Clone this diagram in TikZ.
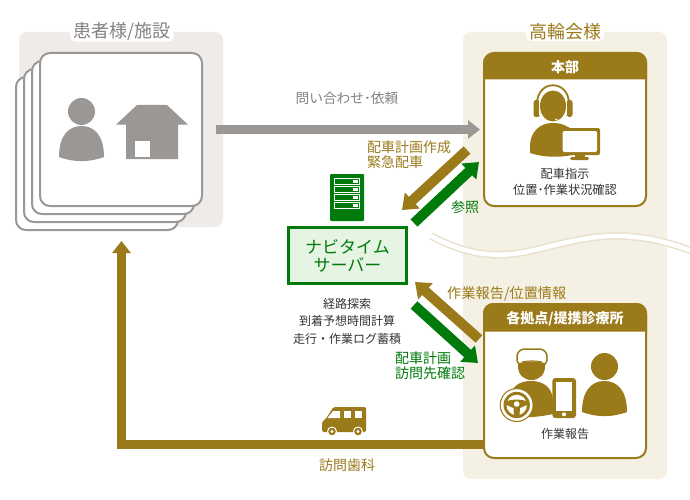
\documentclass[tikz,border=0pt]{standalone}
\usepackage{fontspec}
\setmainfont{Noto Sans CJK JP}
\usetikzlibrary{arrows.meta}
\definecolor{brownc}{HTML}{9B7A1A}
\definecolor{greenc}{HTML}{007A0A}
\definecolor{grayc}{HTML}{9B9794}
\definecolor{graytx}{HTML}{85817E}
\definecolor{leftbg}{HTML}{EEEBE8}
\definecolor{rightbg}{HTML}{F4F1E4}
\definecolor{wavec}{HTML}{E8E1CB}
\definecolor{srvbg}{HTML}{E6F4E4}
\definecolor{darktx}{HTML}{333333}
\newcommand{\fs}[1]{\fontsize{#1}{#1}\selectfont}
\tikzset{
  x=1pt,y=-1pt,
  area/.style={rounded corners=8pt},
  title/.style={fill=white,rounded corners=5pt,inner xsep=3pt,inner ysep=0.5pt,font=\fs{18},anchor=center},
  stack/.style={draw=grayc,line width=2pt,fill=white,rounded corners=10pt},
  card/.style={draw=brownc,line width=2pt,fill=white,rounded corners=10pt},
  head/.style={text=white,font=\fs{14}\bfseries,anchor=center,inner sep=0pt},
  small/.style={text=darktx,font=\fs{12},align=center,anchor=center,inner sep=0pt},
  lab/.style={font=\fs{14},align=left,anchor=west,inner sep=0pt},
  flow/.style={line width=9.5pt,-{Triangle[width=18pt,length=12pt]}},
  diag/.style={line width=10pt,-{Triangle[width=21pt,length=14pt]}},
  person/.pic={
    \fill (22.5,-14.5) circle (13.5);
    \fill (0,31) .. controls (0,9) and (10,0) .. (22.5,0) .. controls (35,0) and (45,9) .. (45,31)
       .. controls (30,36.5) and (15,36.5) .. (0,31) -- cycle;
  }
}
\begin{document}
\begin{tikzpicture}
\useasboundingbox (0,0) rectangle (690,500);
\clip (0,0) rectangle (690,500);
% backgrounds
\fill[leftbg,area] (19,32) rectangle (223,227);
\fill[rightbg,area] (463,32) rectangle (667,479);
% wave
\draw[wavec,line width=7.5pt] (431,236) .. controls (465,254) and (495,259) .. (530,251) .. controls (565,243) and (590,235) .. (622,236) .. controls (645,237) and (665,241) .. (692,251);
\draw[white,line width=4.5pt] (431,236) .. controls (465,254) and (495,259) .. (530,251) .. controls (565,243) and (590,235) .. (622,236) .. controls (645,237) and (665,241) .. (692,251);
% titles
\node[title,text=graytx] (tleft) at (122,32) {患者様/施設};
\node[title,text=brownc] (tright) at (565,32) {高輪会様};
% stacked cards
\draw[stack] (16,77) rectangle (178,230);
\draw[stack] (24,69) rectangle (186,222);
\draw[stack] (32,61) rectangle (194,214);
\draw[stack] (40,53) rectangle (202,206);
\path[fill=grayc] (59,126) pic {person};
\fill[grayc] (116,124.7) -- (137,105) -- (167,105) -- (188,124.7) -- (178,124.7) -- (178,159) -- (126,159) -- (126,124.7) -- cycle;
\fill[white] (135,141) rectangle (150,157);
% main gray arrow
\coordinate (gs) at (216,129.5);
\coordinate (ge) at (480,129.5);
\draw[grayc,flow] (gs) -- (ge);
\node[font=\fs{13.7},text=graytx,inner sep=0pt] (qlab) at (347,98) {問い合わせ･依頼};
% honbu box
\draw[card] (484,53) rectangle (646,206);
\fill[brownc] (483,79.5) -- (483,63) arc[start angle=180,end angle=270,radius=10] -- (637,52) arc[start angle=270,end angle=360,radius=10] -- (647,79.5) -- cycle;
\node[head] (hq) at (565,67) {本部};
% operator
\fill[brownc] (530,153) -- (530,146) .. controls (530,132) and (540,123) .. (552,123) .. controls (562,123) and (568,126) .. (572,130) -- (572,155) .. controls (558,158) and (542,157) .. (530,153) -- cycle;
\fill[brownc] (553,106) ellipse (13 and 15.5);
\draw[brownc,line width=1.8pt] (537,104) .. controls (537,79) and (569,79) .. (569,104);
\fill[brownc,rounded corners=2.5pt] (533.5,100) rectangle (540,117);
\fill[brownc,rounded corners=2.5pt] (566,100) rectangle (572.5,117);
\draw[white,line width=0.8pt] (539.7,100) -- (539.7,115);
\draw[white,line width=0.8pt] (566.3,100) -- (566.3,115);
\draw[white,line width=0.8pt] (555,119) .. controls (558,121) and (566,122) .. (568,116);
\fill[brownc,rounded corners=2pt] (575,152) rectangle (585,158);
\fill[brownc,rounded corners=1.5pt] (570,157) rectangle (589,160);
\fill[brownc,rounded corners=2pt] (561,128) rectangle (600,155);
\fill[white,rounded corners=1.5pt] (562.5,131) rectangle (597,152);
\node[small,font=\fs{12.2}] (hqt) at (565,182) {配車指示\\[4pt]位置･作業状況確認};
% server
\node[draw=greenc,line width=2.5pt,fill=srvbg,minimum width=118pt,minimum height=56pt,inner sep=0pt,align=center,text=greenc,font=\fs{17}] (srv) at (347.5,255.5) {ナビタイム\\[1pt]サーバー};
\fill[greenc,rounded corners=1pt] (330,174) rectangle (364,221);
\foreach \y in {178.5,186.5,194.5,202.5}{
  \draw[white,line width=0.8pt] (334,\y) rectangle (359.5,\y+5.5);
  \fill[white] (353,\y+1.5) rectangle (358,\y+4);
}
\node[small,font=\fs{12}] (srvt) at (347,321) {経路探索\\[5.5pt]到着予想時間計算\\[5.5pt]走行・作業ログ蓄積};
% diagonal arrows
\coordinate (a1s) at (467,150);
\coordinate (a1e) at (402,210);
\coordinate (a2s) at (414,223);
\coordinate (a2e) at (479,162);
\coordinate (a3s) at (479,339);
\coordinate (a3e) at (415,282);
\coordinate (a4s) at (414,305);
\coordinate (a4e) at (478,363);
\draw[brownc,diag] (a1s) -- (a1e);
\draw[greenc,diag] (a2s) -- (a2e);
\draw[brownc,diag] (a3s) -- (a3e);
\draw[greenc,diag] (a4s) -- (a4e);
\node[lab,text=brownc] (l1) at (367,154.5) {配車計画作成\\[1pt]緊急配車};
\node[lab,text=greenc] (l2) at (451,207.5) {参照};
\node[lab,text=brownc,font=\fs{14.2}] (l3) at (447,293.5) {作業報告/位置情報};
\node[lab,text=greenc] (l4) at (395,366) {配車計画\\[1pt]訪問先確認};
% branch box
\draw[card] (484,304) rectangle (646,458);
\fill[brownc] (483,331.5) -- (483,313) arc[start angle=180,end angle=270,radius=10] -- (637,303) arc[start angle=270,end angle=360,radius=10] -- (647,331.5) -- cycle;
\node[head] (br) at (565,319) {各拠点/提携診療所};
\node[small] (brt) at (565,434) {作業報告};
% driver
\fill[brownc] (510,417) -- (510,396) .. controls (512,386) and (520,381) .. (531,381) .. controls (544,381) and (553,388) .. (553,402) -- (553,414) .. controls (540,417) and (525,418) .. (510,417) -- cycle;
\fill[brownc] (518,358) -- (545,358) -- (545,366) .. controls (545,375) and (539,380) .. (531.5,380) .. controls (524,380) and (518,375) .. (518,366) -- cycle;
\draw[brownc,line width=1.5pt,fill=white] (519,364) .. controls (515,360) and (516,349) .. (525,349) -- (539,349) .. controls (548,349) and (549,360) .. (545,364) .. controls (538,361.5) and (526,361.5) .. (519,364) -- cycle;
\draw[brownc,line width=1pt] (522,362) .. controls (528,360.5) and (536,360.5) .. (542,362);
% steering wheel
\fill[brownc] (516.7,405) circle (17);
\fill[white] (516.7,405) circle (15.8);
\fill[brownc] (516.7,405) circle (13.2);
\fill[white] (516.7,405) circle (10.2);
\fill[brownc] (505.5,401.5) .. controls (512,399) and (521,399) .. (528,401.5) -- (527,405) -- (520,408) -- (519.5,415.5) -- (514,415.5) -- (513.5,408) -- (506.5,405) -- cycle;
\fill[white] (516.7,404) circle (2.8);
% phone
\fill[brownc,rounded corners=3pt] (552.3,378) rectangle (576,418);
\fill[white] (556,382) rectangle (572,411);
\fill[white] (564,414.3) circle (2);
\path[fill=brownc] (582,381) pic {person};
% L path
\coordinate (ls) at (484,444.5);
\coordinate (le) at (121.5,241);
\draw[brownc,flow] (ls) -| (le);
% bus
\fill[brownc,rounded corners=1.5pt] (322,432) -- (322,422) -- (326,418.5) -- (333.5,407) -- (366,407) -- (366,432) -- cycle;
\fill[white] (327.5,418) -- (333,411) -- (340,411) -- (340,418) -- cycle;
\fill[white] (344,411) rectangle (351,418);
\fill[white] (355,411) rectangle (362,418);
\fill[white] (332,431.5) circle (5);
\fill[brownc] (332,431.5) circle (3.8);
\fill[white] (332,431.5) circle (1.6);
\fill[white] (358,431.5) circle (5);
\fill[brownc] (358,431.5) circle (3.8);
\fill[white] (358,431.5) circle (1.6);
\node[font=\fs{14},text=brownc,inner sep=0pt] (vlab) at (347,465) {訪問歯科};
\end{tikzpicture}
\end{document}
